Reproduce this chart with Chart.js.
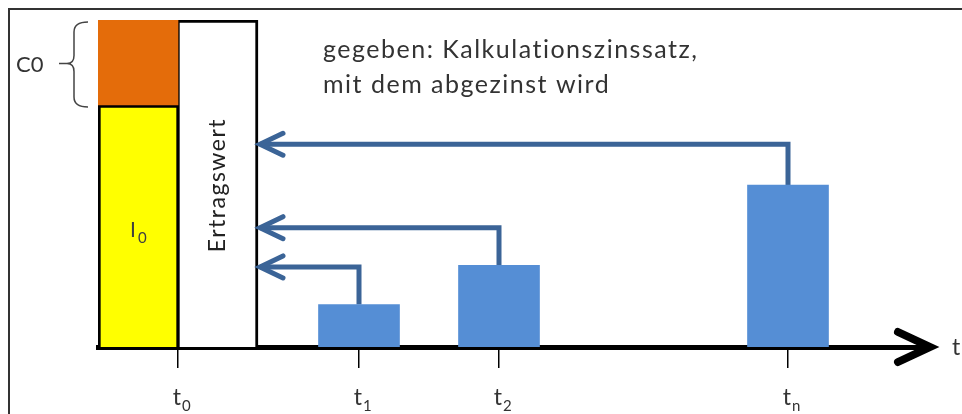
<!DOCTYPE html>
<html>
<head>
<meta charset="utf-8">
<script src="https://cdn.jsdelivr.net/npm/chart.js@4.4.0/dist/chart.umd.min.js"></script>
<style>
  html, body { margin: 0; padding: 0; background: #fff; }
  #wrap { width: 962px; height: 414px; }
</style>
</head>
<body>
<div id="wrap"><canvas id="chart"></canvas></div>
<script>
// time points on the axis (t0, t1, t2, tn)
const periods = ["0", "1", "2", "n"];
const periodX = [0, 9.05, 16.05, 30.5];

// returns at t1, t2, tn and the level where they arrive at the Ertragswert bar
const flowX = [9.05, 16.05, 30.5];
const cashFlows = [13, 25, 49.5];
const arrowLevels = [24.5, 36.5, 62];

// left side: investment I0 + C0 = Ertragswert
const investment = 74;
const capitalValue = 26;
const presentValue = investment + capitalValue;
const investX = -2;
const presentX = 2;
const presentEdge = 4.1;

const noteLines = ["gegeben: Kalkulationszinssatz,", "mit dem abgezinst wird"];

const FONT = "Lato, 'Open Sans', sans-serif";
const ARROW_BLUE = "#3b6497";

const arrowSets = flowX.map((fx, i) => ({
  type: "line",
  label: "arrow" + i,
  data: [
    { x: fx, y: cashFlows[i] },
    { x: fx, y: arrowLevels[i] },
    { x: presentEdge, y: arrowLevels[i] },
  ],
  borderColor: ARROW_BLUE,
  borderWidth: 5,
  borderJoinStyle: "miter",
  pointRadius: 0,
  tension: 0,
  fill: false,
  isArrow: true,
}));

const decorations = {
  id: "decorations",
  beforeDraw(chart) {
    const ctx = chart.ctx;
    ctx.save();
    ctx.fillStyle = "#fff";
    ctx.fillRect(0, 0, chart.width, chart.height);
    // frame of the picture
    ctx.strokeStyle = "#333";
    ctx.lineWidth = 2;
    ctx.beginPath();
    ctx.moveTo(9, chart.height);
    ctx.lineTo(9, 9);
    ctx.lineTo(chart.width, 9);
    ctx.stroke();
    ctx.restore();
  },
  afterDraw(chart) {
    const ctx = chart.ctx;
    const xs = chart.scales.x;
    const ys = chart.scales.y;
    const area = chart.chartArea;
    ctx.save();

    // chevrons at the end of the discount arrows
    chart.data.datasets.forEach((ds, i) => {
      if (!ds.isArrow) return;
      const pts = chart.getDatasetMeta(i).data;
      const tip = pts[pts.length - 1];
      ctx.strokeStyle = ARROW_BLUE;
      ctx.lineWidth = 5;
      ctx.lineCap = "round";
      ctx.lineJoin = "miter";
      ctx.beginPath();
      ctx.moveTo(tip.x + 23, tip.y - 11);
      ctx.lineTo(tip.x, tip.y);
      ctx.lineTo(tip.x + 23, tip.y + 11);
      ctx.stroke();
    });

    // arrow head of the time axis
    const axY = area.bottom;
    const axR = area.right + 2;
    ctx.strokeStyle = "#000";
    ctx.lineWidth = 8;
    ctx.lineCap = "round";
    ctx.lineJoin = "miter";
    ctx.beginPath();
    ctx.moveTo(axR - 32, axY - 15);
    ctx.lineTo(axR, axY);
    ctx.lineTo(axR - 32, axY + 15);
    ctx.stroke();

    // tick labels t0 .. tn
    ctx.fillStyle = "#333";
    ctx.textBaseline = "alphabetic";
    xs.ticks.forEach((t, i) => {
      const px = xs.getPixelForValue(t.value);
      ctx.font = "23px " + FONT;
      ctx.textAlign = "right";
      ctx.fillText("t", px + 3, 405);
      ctx.font = "15px " + FONT;
      ctx.textAlign = "left";
      ctx.fillText(periods[i], px + 4, 411);
    });
    ctx.font = "23px " + FONT;
    ctx.textAlign = "left";
    ctx.fillText("t", axR + 22, axY + 8);

    // note
    ctx.fillStyle = "#333";
    ctx.font = "25px " + FONT;
    ctx.letterSpacing = "1.5px";
    ctx.textBaseline = "middle";
    noteLines.forEach((line, i) => ctx.fillText(line, 323, 50 + i * 35));
    ctx.letterSpacing = "0px";

    // I0 label
    const ix = xs.getPixelForValue(investX);
    const iy = ys.getPixelForValue(investment / 2);
    ctx.fillStyle = "#404040";
    ctx.font = "21px " + FONT;
    ctx.textAlign = "right";
    ctx.textBaseline = "alphabetic";
    ctx.fillText("I", ix - 2, iy + 11);
    ctx.font = "15px " + FONT;
    ctx.textAlign = "left";
    ctx.fillText("0", ix, iy + 17);

    // Ertragswert, rotated
    const ex = xs.getPixelForValue(presentX);
    const ey = ys.getPixelForValue(presentValue * 0.495);
    ctx.translate(ex, ey);
    ctx.rotate(-Math.PI / 2);
    ctx.fillStyle = "#222";
    ctx.font = "23px " + FONT;
    ctx.letterSpacing = "1.5px";
    ctx.textAlign = "center";
    ctx.textBaseline = "middle";
    ctx.fillText("Ertragswert", 0, 0);
    ctx.setTransform(1, 0, 0, 1, 0, 0);
    ctx.letterSpacing = "0px";

    // C0 with brace
    const top = ys.getPixelForValue(presentValue) + 2;
    const mid = ys.getPixelForValue(investment);
    const cy = (top + mid) / 2;
    ctx.strokeStyle = "#444";
    ctx.lineWidth = 1.5;
    ctx.lineCap = "butt";
    ctx.beginPath();
    ctx.moveTo(88, top);
    ctx.quadraticCurveTo(74, top, 74, top + 10);
    ctx.lineTo(74, cy - 8);
    ctx.quadraticCurveTo(74, cy, 67, cy);
    ctx.quadraticCurveTo(74, cy, 74, cy + 8);
    ctx.lineTo(74, mid - 8);
    ctx.quadraticCurveTo(74, mid + 2, 88, mid + 2);
    ctx.moveTo(59, cy);
    ctx.lineTo(68, cy);
    ctx.stroke();
    ctx.fillStyle = "#333";
    ctx.font = "22px " + FONT;
    ctx.textAlign = "left";
    ctx.textBaseline = "middle";
    ctx.fillText("C0", 16, cy + 1);

    ctx.restore();
  },
};

new Chart(document.getElementById("chart"), {
  type: "bar",
  data: {
    datasets: [
      {
        label: "C0",
        data: [{ x: investX, y: [investment, presentValue] }],
        backgroundColor: "#e46c0a",
        borderWidth: 0,
        barThickness: 80,
        grouped: false,
      },
      {
        label: "I0",
        data: [{ x: investX, y: [0, investment] }],
        backgroundColor: "#ffff00",
        borderColor: "#000",
        borderWidth: { left: 3, top: 3, right: 2, bottom: 0 },
        borderSkipped: false,
        barThickness: 80,
        grouped: false,
      },
      {
        label: "Ertragswert",
        data: [{ x: presentX, y: [0, presentValue] }],
        backgroundColor: "#ffffff",
        borderColor: "#000",
        borderWidth: { left: 2, top: 3, right: 3, bottom: 0 },
        borderSkipped: false,
        barThickness: 80,
        grouped: false,
      },
      {
        label: "Rückflüsse",
        data: flowX.map((x, i) => ({ x: x, y: cashFlows[i] })),
        backgroundColor: "#558ed5",
        borderWidth: 0,
        barThickness: 81,
        grouped: false,
      },
      ...arrowSets,
    ],
  },
  options: {
    responsive: true,
    maintainAspectRatio: false,
    animation: false,
    events: [],
    layout: { padding: { left: 98, right: 34, top: 20, bottom: 0 } },
    plugins: {
      legend: { display: false },
      tooltip: { enabled: false },
    },
    scales: {
      x: {
        type: "linear",
        position: "bottom",
        min: -4,
        max: 37.5,
        offset: false,
        z: 1,
        border: { display: true, color: "#000", width: 5 },
        grid: {
          display: true,
          offset: false,
          drawOnChartArea: false,
          drawTicks: true,
          tickLength: 21,
          color: "#000",
          lineWidth: 1.5,
        },
        ticks: { autoSkip: false, callback: () => "" },
        afterBuildTicks: (scale) => {
          scale.ticks = periodX.map((v) => ({ value: v }));
        },
        afterFit: (scale) => {
          scale.height = 67;
        },
      },
      y: {
        display: false,
        min: 0,
        max: 100,
      },
    },
  },
  plugins: [decorations],
});
</script>
</body>
</html>
